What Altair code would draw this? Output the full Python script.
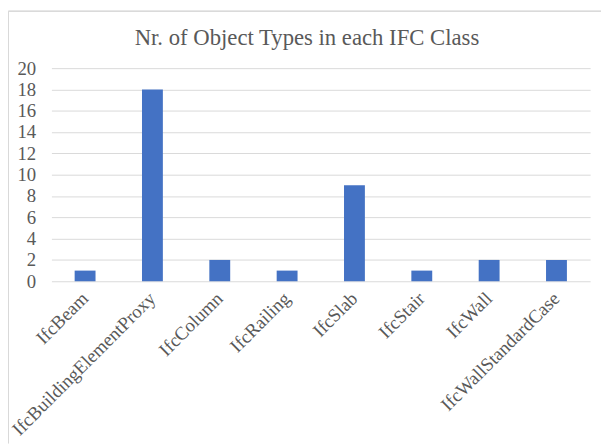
import altair as alt
import pandas as pd

categories = ["IfcBeam", "IfcBuildingElementProxy", "IfcColumn", "IfcRailing",
              "IfcSlab", "IfcStair", "IfcWall", "IfcWallStandardCase"]
counts = [1, 18, 2, 1, 9, 1, 2, 2]

df = pd.DataFrame({"cls": categories, "n": counts})

FONT = "Liberation Serif"
GRAY = "#595959"

bars = alt.Chart(df).mark_bar(color="#4472C4").encode(
    x=alt.X("cls:N", sort=categories, title=None,
            scale=alt.Scale(paddingInner=0.69, paddingOuter=0.345),
            axis=alt.Axis(labelAngle=-45, labelAlign="right", labelBaseline="middle",
                          labelPadding=14, ticks=False, domain=False, grid=False,
                          labelFont=FONT, labelFontSize=19, labelColor=GRAY,
                          labelLimit=400)),
    y=alt.Y("n:Q", title=None,
            scale=alt.Scale(domain=[0, 20], nice=False),
            axis=alt.Axis(values=list(range(0, 21, 2)), ticks=False, domain=False,
                          labelPadding=16, labelFont=FONT, labelFontSize=19,
                          labelColor=GRAY, gridColor="#d9d9d9", gridWidth=1)),
)

border_left = alt.Chart(df).mark_rule(color="#d9d9d9", strokeWidth=1).encode(
    x=alt.value(-43.5), y=alt.value(-57.5), y2=alt.value(380))
border_top = alt.Chart(df).mark_rule(color="#d9d9d9", strokeWidth=1).encode(
    x=alt.value(-43.5), x2=alt.value(560), y=alt.value(-57.5))

chart = alt.layer(bars, border_left, border_top).properties(
    width=546, height=216,
    title=alt.TitleParams("Nr. of Object Types in each IFC Class", font=FONT,
                          fontSize=23, fontWeight="normal", color=GRAY,
                          anchor="middle", offset=-40, dx=-14),
    autosize=alt.AutoSizeParams(type="none"),
    padding={"left": 44, "top": 58, "right": 11, "bottom": 163},
).configure_view(stroke=None)

chart.save("out.html", embed_options={"renderer": "svg", "actions": False})
